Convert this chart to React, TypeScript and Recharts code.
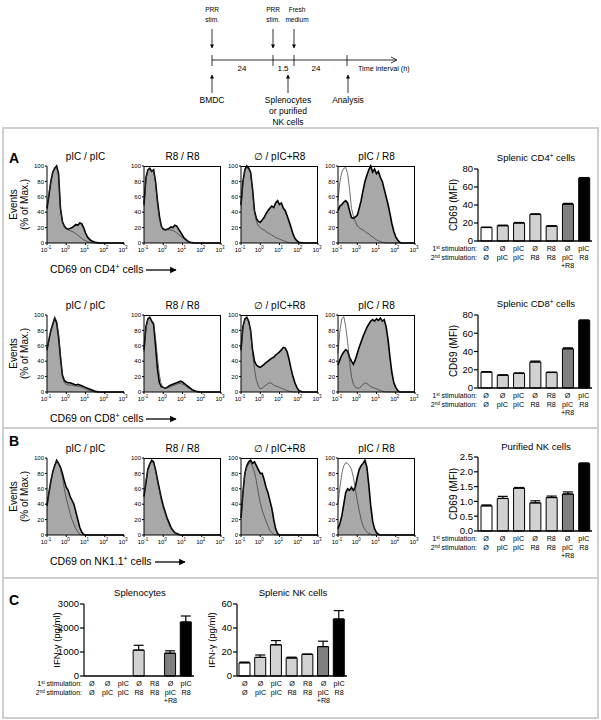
import React from 'react';
import { ComposedChart, Area, Line, XAxis, YAxis, BarChart, Bar, Cell, ErrorBar } from 'recharts';

const FONT = '"Liberation Sans", Arial, Helvetica, sans-serif';

// CD69 intensity bins (log10), 10^-1 .. 10^3
const LOG_BINS = [-1.0, -0.9, -0.8, -0.7, -0.6, -0.5, -0.4, -0.3, -0.2, -0.1, 0.0, 0.1, 0.2, 0.3, 0.4, 0.5, 0.6, 0.7, 0.8, 0.9, 1.0, 1.1, 1.2, 1.3, 1.4, 1.5, 1.6, 1.7, 1.8, 1.9, 2.0, 2.1, 2.2, 2.3, 2.4, 3.0];
const LOG_TICKS = [-1, 0, 1, 2, 3];
const PCT_TICKS = [0, 20, 40, 60, 80, 100];
const HIST_TITLES = ['pIC / pIC', 'R8 / R8', '\u2205 / pIC+R8', 'pIC / R8'];

// CD4+ cells (% of max), filled = stimulated, line = control
const CD4_PIC_PIC = [45, 62, 80, 92, 97, 100, 90, 45, 28, 22, 19, 18, 19, 20, 22, 24, 23, 26, 25, 20, 13, 8, 5, 3, 2, 1, 0.5, 0, 0, 0, 0, 0, 0, 0, 0, 0];
const CD4_PIC_PIC_CTRL = [44, 64, 80, 91, 98, 99, 88, 44, 28, 21, 18, 17, 16, 15, 14, 12, 10, 8, 6, 4, 3, 2, 1, 0.5, 0, 0, 0, 0, 0, 0, 0, 0, 0, 0, 0, 0];
const CD4_R8_R8 = [50, 85, 95, 97, 93, 95, 80, 55, 35, 22, 18, 17, 18, 19, 21, 20, 23, 22, 18, 14, 10, 6, 4, 2, 1, 0.5, 0, 0, 0, 0, 0, 0, 0, 0, 0, 0];
const CD4_R8_R8_CTRL = [48, 83, 94, 96, 94, 93, 78, 52, 32, 22, 19, 18, 17, 17, 17, 16, 15, 13, 11, 9, 7, 5, 3, 2, 1, 0.5, 0, 0, 0, 0, 0, 0, 0, 0, 0, 0];
const CD4_NONE_PICR8 = [50, 80, 95, 100, 97, 92, 70, 42, 32, 28, 27, 30, 33, 38, 42, 45, 48, 46, 52, 55, 50, 52, 45, 42, 35, 28, 20, 12, 6, 3, 1, 0.5, 0, 0, 0, 0];
const CD4_NONE_PICR8_CTRL = [48, 78, 94, 98, 96, 90, 68, 40, 28, 22, 20, 18, 17, 15, 13, 12, 10, 9, 7, 6, 5, 4, 3, 2, 1, 0.5, 0, 0, 0, 0, 0, 0, 0, 0, 0, 0];
const CD4_PIC_R8 = [42, 48, 50, 53, 55, 52, 42, 33, 32, 34, 36, 45, 55, 68, 80, 88, 95, 100, 92, 96, 90, 93, 85, 80, 70, 60, 50, 38, 25, 15, 8, 4, 1, 0, 0, 0];
const CD4_PIC_R8_CTRL = [55, 80, 92, 97, 98, 90, 70, 45, 35, 28, 22, 20, 18, 17, 15, 13, 12, 9, 8, 6, 4, 3, 2, 1, 0.5, 0, 0, 0, 0, 0, 0, 0, 0, 0, 0, 0];

// CD8+ cells
const CD8_PIC_PIC = [55, 68, 80, 88, 96, 90, 72, 45, 22, 15, 13, 12, 12, 11, 10, 9, 10, 9, 8, 7, 6, 5, 4, 3, 2, 1, 0.5, 0, 0, 0, 0, 0, 0, 0, 0, 0];
const CD8_PIC_PIC_CTRL = [54, 67, 80, 88, 97, 92, 75, 48, 20, 12, 10, 9, 9, 9, 8, 8, 7, 7, 6, 5, 4, 3, 2, 1, 0.5, 0, 0, 0, 0, 0, 0, 0, 0, 0, 0, 0];
const CD8_R8_R8 = [55, 85, 95, 97, 92, 88, 60, 30, 12, 7, 6, 5, 6, 8, 9, 10, 11, 12, 13, 14, 13, 11, 9, 7, 5, 3, 2, 1, 0.5, 0, 0, 0, 0, 0, 0, 0];
const CD8_R8_R8_CTRL = [52, 83, 94, 96, 93, 90, 70, 45, 22, 10, 6, 5, 5, 6, 7, 8, 9, 10, 11, 11, 10, 9, 7, 5, 4, 2, 1, 0.5, 0, 0, 0, 0, 0, 0, 0, 0];
const CD8_NONE_PICR8 = [55, 85, 95, 97, 92, 80, 55, 40, 35, 33, 32, 34, 36, 38, 40, 42, 44, 45, 48, 50, 52, 55, 58, 57, 52, 42, 30, 20, 12, 6, 2, 1, 0, 0, 0, 0];
const CD8_NONE_PICR8_CTRL = [53, 84, 94, 96, 92, 78, 50, 30, 15, 8, 4, 5, 7, 9, 11, 12, 11, 9, 8, 7, 6, 5, 4, 3, 2, 1, 0.5, 0, 0, 0, 0, 0, 0, 0, 0, 0];
const CD8_PIC_R8 = [35, 42, 48, 52, 55, 53, 45, 40, 36, 42, 50, 58, 65, 72, 78, 84, 88, 92, 94, 92, 95, 93, 96, 92, 94, 85, 68, 45, 25, 12, 6, 2, 0, 0, 0, 0];
const CD8_PIC_R8_CTRL = [50, 80, 95, 98, 85, 65, 40, 20, 10, 6, 5, 5, 7, 10, 12, 11, 9, 7, 6, 5, 4, 3, 2, 1, 0.5, 0, 0, 0, 0, 0, 0, 0, 0, 0, 0, 0];

// NK1.1+ cells
const NK_PIC_PIC = [38, 55, 70, 82, 90, 97, 93, 88, 80, 70, 62, 58, 50, 45, 40, 30, 20, 10, 4, 1, 0, 0, 0, 0, 0, 0, 0, 0, 0, 0, 0, 0, 0, 0, 0, 0];
const NK_PIC_PIC_CTRL = [38, 55, 70, 82, 90, 96, 92, 86, 75, 60, 48, 38, 28, 20, 14, 8, 4, 1, 0, 0, 0, 0, 0, 0, 0, 0, 0, 0, 0, 0, 0, 0, 0, 0, 0, 0];
const NK_R8_R8 = [50, 68, 85, 92, 97, 95, 85, 72, 60, 48, 38, 30, 22, 16, 10, 6, 3, 2, 1, 0, 0, 0, 0, 0, 0, 0, 0, 0, 0, 0, 0, 0, 0, 0, 0, 0];
const NK_R8_R8_CTRL = [50, 70, 86, 93, 95, 93, 83, 70, 57, 45, 35, 28, 20, 14, 8, 5, 2, 1, 0, 0, 0, 0, 0, 0, 0, 0, 0, 0, 0, 0, 0, 0, 0, 0, 0, 0];
const NK_NONE_PICR8 = [22, 55, 80, 90, 95, 97, 93, 95, 90, 85, 80, 80, 72, 62, 55, 45, 35, 20, 8, 2, 0, 0, 0, 0, 0, 0, 0, 0, 0, 0, 0, 0, 0, 0, 0, 0];
const NK_NONE_PICR8_CTRL = [22, 55, 80, 88, 92, 95, 88, 82, 70, 55, 42, 32, 25, 18, 12, 6, 3, 1, 0, 0, 0, 0, 0, 0, 0, 0, 0, 0, 0, 0, 0, 0, 0, 0, 0, 0];
const NK_PIC_R8 = [8, 15, 25, 40, 55, 60, 58, 62, 58, 62, 75, 85, 90, 93, 97, 88, 65, 38, 18, 8, 3, 1, 0, 0, 0, 0, 0, 0, 0, 0, 0, 0, 0, 0, 0, 0];
const NK_PIC_R8_CTRL = [40, 62, 80, 90, 94, 93, 90, 85, 75, 60, 45, 32, 20, 12, 7, 4, 2, 1, 0, 0, 0, 0, 0, 0, 0, 0, 0, 0, 0, 0, 0, 0, 0, 0, 0, 0];

// stimulation groups (bar charts)
const STIM1 = ['Ø', 'Ø', 'pIC', 'Ø', 'R8', 'Ø', 'pIC'];
const STIM2 = ['Ø', 'pIC', 'pIC', 'R8', 'R8', 'pIC\n+R8', 'R8'];
const BAR_FILLS = ['#ffffff', '#d2d2d2', '#d2d2d2', '#d2d2d2', '#d2d2d2', '#7f7f7f', '#000000'];

const CD4_MFI = [15, 17, 20, 29.5, 16.5, 41, 70];
const CD4_MFI_ERR = [0.4, 0.6, 0.6, 0.7, 0.5, 0.8, 0.5];
const CD8_MFI = [17.5, 14, 16, 28.5, 17, 43, 74];
const CD8_MFI_ERR = [0.5, 0.4, 0.5, 1, 0.4, 1, 0.6];
const NK_MFI = [0.85, 1.1, 1.45, 0.95, 1.13, 1.25, 2.28];
const NK_MFI_ERR = [0.03, 0.07, 0.02, 0.07, 0.05, 0.07, 0.02];
const SPL_IFN = [0, 0, 0, 1080, 0, 950, 2250];
const SPL_IFN_ERR = [0, 0, 0, 200, 0, 100, 250];
const NKC_IFN = [11, 15.5, 26, 15, 18, 24.5, 47.5];
const NKC_IFN_ERR = [0.6, 2, 3.5, 0.7, 0.3, 4.5, 7];

const H_YW = 17, H_MT = 6, H_MR = 6, H_XH = 16, H_PW = 77, H_PH = 77;
const B_YW = 28, B_MT = 6, B_MR = 4, B_XH = 32;
const HIST_LEFTS = [47, 144, 241, 338];

const ROWS = [
  { top: 166, stim: [CD4_PIC_PIC, CD4_R8_R8, CD4_NONE_PICR8, CD4_PIC_R8], ctrl: [CD4_PIC_PIC_CTRL, CD4_R8_R8_CTRL, CD4_NONE_PICR8_CTRL, CD4_PIC_R8_CTRL], cell: 'CD4', arrow: [146, 176] },
  { top: 315, stim: [CD8_PIC_PIC, CD8_R8_R8, CD8_NONE_PICR8, CD8_PIC_R8], ctrl: [CD8_PIC_PIC_CTRL, CD8_R8_R8_CTRL, CD8_NONE_PICR8_CTRL, CD8_PIC_R8_CTRL], cell: 'CD8', arrow: [146, 176] },
  { top: 458, stim: [NK_PIC_PIC, NK_R8_R8, NK_NONE_PICR8, NK_PIC_R8], ctrl: [NK_PIC_PIC_CTRL, NK_R8_R8_CTRL, NK_NONE_PICR8_CTRL, NK_PIC_R8_CTRL], cell: 'NK1.1', arrow: [155, 185] },
];

const LogTick = (props: any) => {
  const { x, y, payload } = props;
  return (
    <text x={x - 1} y={y + 6} textAnchor="middle" fontSize={6} fontFamily={FONT} fill="#000">
      10<tspan dy={-3} fontSize={4.5}>{payload.value}</tspan>
    </text>
  );
};

const StimTick = (props: any) => {
  const { x, y, payload } = props;
  const i = payload.value;
  const lines = STIM2[i].split('\n');
  return (
    <g>
      <text x={x} y={y + 10} textAnchor="middle" fontSize={7.2} fontFamily={FONT} fill="#000">{STIM1[i]}</text>
      {lines.map((s, k) => (
        <text key={k} x={x} y={y + 19 + k * 7.5} textAnchor="middle" fontSize={7.2} fontFamily={FONT} fill="#000">{s}</text>
      ))}
    </g>
  );
};

function Hist({ left, top, stim, ctrl, boxed }: any) {
  const data = LOG_BINS.map((x, i) => ({ x, stim: stim[i], ctrl: ctrl[i] }));
  return (
    <div style={{ position: 'absolute', left: left - H_YW, top: top - H_MT }}>
      <ComposedChart width={H_YW + H_PW + H_MR} height={H_MT + H_PH + H_XH} data={data} margin={{ top: H_MT, right: H_MR, bottom: 0, left: 0 }}>
        <XAxis dataKey="x" type="number" domain={[-1, 3]} ticks={LOG_TICKS} interval={0} tick={<LogTick />} tickSize={2} tickMargin={1} height={H_XH} stroke="#000" />
        <YAxis type="number" domain={[0, 100]} ticks={PCT_TICKS} interval={0} tick={{ fontSize: 6, fill: '#000', fontFamily: FONT }} tickSize={2} tickMargin={1} width={H_YW} stroke="#000" />
        <Area dataKey="stim" type="linear" fill="#a8a8a8" fillOpacity={1} stroke="#000" strokeWidth={1.6} dot={false} activeDot={false} isAnimationActive={false} />
        <Line dataKey="ctrl" type="linear" stroke="#333" strokeWidth={0.7} dot={false} activeDot={false} isAnimationActive={false} />
      </ComposedChart>
      {boxed && (
        <div style={{ position: 'absolute', left: H_YW, top: H_MT, width: H_PW, height: H_PH, borderTop: '1px solid #000', borderRight: '1px solid #000', boxSizing: 'border-box', pointerEvents: 'none' }} />
      )}
    </div>
  );
}

function StimBars({ left, top, w, h, values, errors, domain, ticks, fmt }: any) {
  const data = values.map((v: number, i: number) => ({ i, v, err: errors[i] ? [0, errors[i]] : null }));
  return (
    <div style={{ position: 'absolute', left: left - B_YW, top: top - B_MT }}>
      <BarChart width={B_YW + w + B_MR} height={B_MT + h + B_XH} data={data} margin={{ top: B_MT, right: B_MR, bottom: 0, left: 0 }}>
        <XAxis dataKey="i" type="category" interval={0} tick={<StimTick />} tickLine={false} tickSize={0} tickMargin={0} height={B_XH} stroke="#000" strokeWidth={1.3} />
        <YAxis type="number" domain={domain} ticks={ticks} interval={0} tickFormatter={fmt} tick={{ fontSize: 9.5, fill: '#000', fontFamily: FONT }} tickSize={4} tickMargin={1} width={B_YW} stroke="#000" strokeWidth={1.2} />
        <Bar dataKey="v" barSize={11} stroke="#000" strokeWidth={1} isAnimationActive={false}>
          {values.map((_: number, i: number) => <Cell key={i} fill={BAR_FILLS[i]} />)}
          <ErrorBar dataKey="err" direction="y" width={5} stroke="#000" strokeWidth={1.2} isAnimationActive={false} />
        </Bar>
      </BarChart>
    </div>
  );
}

const StimRowLabels = ({ x, axisY }: { x: number; axisY: number }) => (
  <g fontSize={7} fontFamily={FONT} fill="#000" textAnchor="end">
    <text x={x} y={axisY + 10}>1<tspan dy={-2.5} fontSize={4.5}>st</tspan><tspan dy={2.5}> stimulation:</tspan></text>
    <text x={x} y={axisY + 19}>2<tspan dy={-2.5} fontSize={4.5}>nd</tspan><tspan dy={2.5}> stimulation:</tspan></text>
  </g>
);

const VLabel = ({ x, cy, lines, size = 10 }: any) => (
  <g transform={`translate(${x}, ${cy}) rotate(-90)`} fontSize={size} fontFamily={FONT} fill="#000" textAnchor="middle">
    {lines.map((s: string, k: number) => <text key={k} x={0} y={k * 11}>{s}</text>)}
  </g>
);

function Overlay() {
  const grey = '#cfcfcf';
  return (
    <svg width={601} height={720} style={{ position: 'absolute', left: 0, top: 0 }} fontFamily={FONT}>
      <defs>
        <marker id="tri" viewBox="0 0 10 10" refX="9" refY="5" markerWidth="5" markerHeight="6" orient="auto">
          <path d="M0,0 L10,5 L0,10 z" fill="#000" />
        </marker>
      </defs>
      {/* frame */}
      <rect x={3} y={128} width={595} height={590} fill="none" stroke={grey} strokeWidth={2} />
      <line x1={3} x2={598} y1={428} y2={428} stroke={grey} strokeWidth={2} />
      <line x1={3} x2={598} y1={578} y2={578} stroke={grey} strokeWidth={2} />

      {/* timeline */}
      <line x1={212} x2={396} y1={60} y2={60} stroke="#000" strokeWidth={0.8} />
      <polyline points="391,57 397,60 391,63" fill="none" stroke="#000" strokeWidth={0.8} />
      {[212, 273, 294, 347].map((x) => <line key={x} x1={x} x2={x} y1={55} y2={66} stroke="#000" strokeWidth={0.8} />)}
      {[212, 273, 294].map((x) => <line key={x} x1={x} x2={x} y1={29} y2={48} stroke="#000" strokeWidth={0.8} markerEnd="url(#tri)" />)}
      {[212, 288, 348].map((x) => <line key={x} x1={x} x2={x} y1={93} y2={75} stroke="#000" strokeWidth={0.8} markerEnd="url(#tri)" />)}
      <g fontSize={6.5} fill="#000" textAnchor="middle">
        <text x={212} y={12}>PRR</text>
        <text x={212} y={22}>stim.</text>
        <text x={273} y={12}>PRR</text>
        <text x={273} y={22}>stim.</text>
        <text x={297} y={12}>Fresh</text>
        <text x={297} y={22}>medium</text>
      </g>
      <g fontSize={8} fill="#000" textAnchor="middle">
        <text x={242} y={71}>24</text>
        <text x={283} y={71}>1.5</text>
        <text x={316} y={71}>24</text>
        <text x={358} y={71} textAnchor="start" fontSize={7.2}>Time interval (h)</text>
      </g>
      <g fontSize={8.5} fill="#000" textAnchor="middle">
        <text x={212} y={103}>BMDC</text>
        <text x={288} y={103}>Splenocytes</text>
        <text x={288} y={114}>or purified</text>
        <text x={288} y={125}>NK cells</text>
        <text x={348} y={103}>Analysis</text>
      </g>

      {/* panel letters */}
      <g fontSize={14} fontWeight="bold" fill="#000">
        <text x={9} y={163}>A</text>
        <text x={9} y={446}>B</text>
        <text x={9} y={605}>C</text>
      </g>

      {/* histogram annotations */}
      {ROWS.map((r, ri) => (
        <g key={ri} fill="#000">
          {HIST_TITLES.map((t, ci) => (
            <text key={ci} x={HIST_LEFTS[ci] + H_PW / 2} y={r.top - 6} fontSize={10} textAnchor="middle">{t}</text>
          ))}
          <VLabel x={17} cy={r.top + H_PH / 2} lines={['Events', '(% of Max.)']} />
          <text x={50} y={r.top + 107} fontSize={10.5}>
            CD69 on {r.cell}<tspan dy={-4} fontSize={7}>+</tspan><tspan dy={4}> cells</tspan>
          </text>
          <line x1={r.arrow[0]} x2={r.arrow[1]} y1={r.top + 104} y2={r.top + 104} stroke="#000" strokeWidth={1.3} markerEnd="url(#tri)" />
        </g>
      ))}

      {/* bar chart annotations */}
      <g fontSize={9.5} fill="#000" textAnchor="middle">
        <text x={536} y={161}>Splenic CD4<tspan dy={-3} fontSize={6.5}>+</tspan><tspan dy={3}> cells</tspan></text>
        <text x={536} y={307}>Splenic CD8<tspan dy={-3} fontSize={6.5}>+</tspan><tspan dy={3}> cells</tspan></text>
        <text x={536} y={450}>Purified NK cells</text>
        <text x={140} y={596}>Splenocytes</text>
        <text x={293} y={596}>Splenic NK cells</text>
      </g>
      <VLabel x={457} cy={205} lines={['CD69 (MFI)']} />
      <VLabel x={457} cy={351} lines={['CD69 (MFI)']} />
      <VLabel x={457} cy={494} lines={['CD69 (MFI)']} />
      <VLabel x={60} cy={640} lines={['IFN-\u03b3 (pg/ml)']} size={9.5} />
      <VLabel x={215} cy={640} lines={['IFN-\u03b3 (pg/ml)']} size={9.5} />
      <StimRowLabels x={477} axisY={241} />
      <StimRowLabels x={477} axisY={388} />
      <StimRowLabels x={477} axisY={531} />
      <StimRowLabels x={82} axisY={676} />
    </svg>
  );
}

export default function App() {
  return (
    <div style={{ position: 'absolute', left: 0, top: 0, width: 601, height: 720, background: '#fff', fontFamily: FONT, overflow: 'hidden' }}>
      <Overlay />
      {ROWS.map((r, ri) =>
        HIST_LEFTS.map((l, ci) => (
          <Hist key={`${ri}-${ci}`} left={l} top={r.top} stim={r.stim[ci]} ctrl={r.ctrl[ci]} boxed={ci > 0} />
        ))
      )}
      <StimBars left={478} top={169} w={114} h={72} values={CD4_MFI} errors={CD4_MFI_ERR} domain={[0, 80]} ticks={[0, 20, 40, 60, 80]} />
      <StimBars left={478} top={315} w={114} h={73} values={CD8_MFI} errors={CD8_MFI_ERR} domain={[0, 80]} ticks={[0, 20, 40, 60, 80]} />
      <StimBars left={478} top={457} w={114} h={74} values={NK_MFI} errors={NK_MFI_ERR} domain={[0, 2.5]} ticks={[0, 0.5, 1, 1.5, 2, 2.5]} fmt={(v: number) => v.toFixed(1)} />
      <StimBars left={84} top={604} w={110} h={72} values={SPL_IFN} errors={SPL_IFN_ERR} domain={[0, 3000]} ticks={[0, 1000, 2000, 3000]} />
      <StimBars left={237} top={604} w={110} h={72} values={NKC_IFN} errors={NKC_IFN_ERR} domain={[0, 60]} ticks={[0, 20, 40, 60]} />
    </div>
  );
}
